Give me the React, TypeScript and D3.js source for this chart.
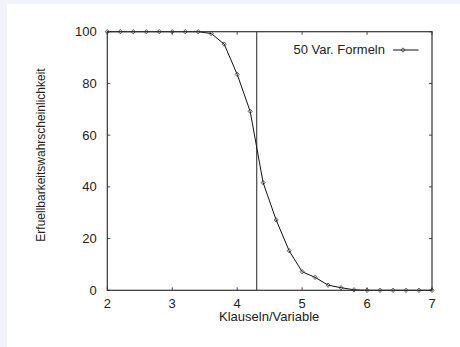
import React, { useEffect, useRef } from "react";
import * as d3 from "d3";

// Clauses per variable (x) and satisfiability probability in % (y)
const ratios = [
    2.0, 2.2, 2.4, 2.6, 2.8, 3.0, 3.2, 3.4, 3.6, 3.8, 4.0, 4.2, 4.4, 4.6, 4.8,
    5.0, 5.2, 5.4, 5.6, 5.8, 6.0, 6.2, 6.4, 6.6, 6.8, 7.0,
];
const probabilities = [
    100, 100, 100, 100, 100, 100, 100, 100, 99.3, 95.2, 83.5, 69.2, 41.6, 27.2,
    15.3, 7.2, 5.0, 2.0, 1.0, 0.2, 0, 0, 0, 0, 0, 0,
];
const xTicks = [2, 3, 4, 5, 6, 7];
const yTicks = [0, 20, 40, 60, 80, 100];
const threshold = 4.3;
const seriesLabel = "50 Var. Formeln";

const App: React.FC = () => {
    const svgRef = useRef<SVGSVGElement | null>(null);

    useEffect(() => {
        const width = 460;
        const height = 347;
        const margin = { top: 31.7, right: 28, bottom: 56.7, left: 107.3 };
        const innerW = width - margin.left - margin.right;
        const innerH = height - margin.top - margin.bottom;
        const font = "'Liberation Sans', Arial, Helvetica, sans-serif";
        const ink = "#222";

        d3.select(svgRef.current).selectAll("*").remove();

        const root = d3
            .select(svgRef.current)
            .attr("width", width)
            .attr("height", height)
            .style("display", "block");

        // page background + white card
        root.append("rect")
            .attr("width", width)
            .attr("height", height)
            .attr("fill", "#f2f3f8");
        root.append("rect")
            .attr("x", 7)
            .attr("y", 4)
            .attr("width", width - 7)
            .attr("height", height - 4)
            .attr("fill", "#fff");

        const svg = root
            .append("g")
            .attr("transform", `translate(${margin.left},${margin.top})`);

        const x = d3.scaleLinear().domain([2, 7]).range([0, innerW]);
        const y = d3.scaleLinear().domain([0, 100]).range([innerH, 0]);

        // ticks (inward, mirrored)
        const tickLen = 3;
        const tickG = svg.append("g").attr("stroke", "#444").attr("stroke-width", 1);
        xTicks.forEach((t) => {
            tickG.append("line").attr("x1", x(t)).attr("x2", x(t)).attr("y1", innerH).attr("y2", innerH - tickLen);
            tickG.append("line").attr("x1", x(t)).attr("x2", x(t)).attr("y1", 0).attr("y2", tickLen);
        });
        yTicks.forEach((t) => {
            tickG.append("line").attr("x1", 0).attr("x2", tickLen).attr("y1", y(t)).attr("y2", y(t));
            tickG.append("line").attr("x1", innerW).attr("x2", innerW - tickLen).attr("y1", y(t)).attr("y2", y(t));
        });

        // tick labels
        svg.append("g")
            .selectAll("text")
            .data(xTicks)
            .enter()
            .append("text")
            .attr("x", (d) => x(d))
            .attr("y", innerH + 17.5)
            .attr("text-anchor", "middle")
            .style("font-family", font)
            .style("font-size", "13px")
            .attr("fill", ink)
            .text((d) => d);

        svg.append("g")
            .selectAll("text")
            .data(yTicks)
            .enter()
            .append("text")
            .attr("x", -10.5)
            .attr("y", (d) => y(d) + 4.5)
            .attr("text-anchor", "end")
            .style("font-family", font)
            .style("font-size", "13px")
            .attr("fill", ink)
            .text((d) => d);

        // axis titles
        svg.append("text")
            .attr("x", innerW / 2 - 0.5)
            .attr("y", innerH + 30.5)
            .attr("text-anchor", "middle")
            .style("font-family", font)
            .style("font-size", "13px")
            .attr("fill", ink)
            .text("Klauseln/Variable");

        svg.append("text")
            .attr("transform", `translate(${41 + 4 - margin.left},${155 - margin.top}) rotate(-90)`)
            .attr("text-anchor", "middle")
            .style("font-family", font)
            .style("font-size", "12px")
            .attr("fill", ink)
            .text("Erfuellbarkeitswahrscheinlichkeit");

        // threshold line
        svg.append("line")
            .attr("x1", x(threshold))
            .attr("x2", x(threshold))
            .attr("y1", 0)
            .attr("y2", innerH)
            .attr("stroke", "#555")
            .attr("stroke-width", 1.3);

        // curve
        const pts = ratios.map((r, i) => [r, probabilities[i]] as [number, number]);
        const line = d3
            .line<[number, number]>()
            .x((d) => x(d[0]))
            .y((d) => y(d[1]));

        svg.append("path")
            .datum(pts)
            .attr("d", line)
            .attr("fill", "none")
            .attr("stroke", "#111")
            .attr("stroke-width", 1);

        const diamond = (cx: number, cy: number) =>
            `M${cx},${cy - 2.2}L${cx + 2},${cy}L${cx},${cy + 2.2}L${cx - 2},${cy}Z`;

        svg.append("g")
            .selectAll("path")
            .data(pts)
            .enter()
            .append("path")
            .attr("d", (d) => diamond(x(d[0]), y(d[1])))
            .attr("fill", "none")
            .attr("stroke", "#333")
            .attr("stroke-width", 0.8);

        // frame
        svg.append("rect")
            .attr("width", innerW)
            .attr("height", innerH)
            .attr("fill", "none")
            .attr("stroke", "#333")
            .attr("stroke-width", 1.2);

        // legend
        const legendY = 50 - margin.top;
        const lx1 = 393 - margin.left;
        const lx2 = 418.5 - margin.left;
        svg.append("text")
            .attr("x", 385 - margin.left)
            .attr("y", legendY + 4.5)
            .attr("text-anchor", "end")
            .style("font-family", font)
            .style("font-size", "13px")
            .attr("fill", ink)
            .text(seriesLabel);
        svg.append("line")
            .attr("x1", lx1)
            .attr("x2", lx2)
            .attr("y1", legendY)
            .attr("y2", legendY)
            .attr("stroke", "#111")
            .attr("stroke-width", 1);
        svg.append("path")
            .attr("d", diamond(403 - margin.left, legendY))
            .attr("fill", "none")
            .attr("stroke", "#333")
            .attr("stroke-width", 0.8);
    }, []);

    return <svg ref={svgRef} style={{ position: "fixed", left: 0, top: 0 }} />;
};

export default App;
